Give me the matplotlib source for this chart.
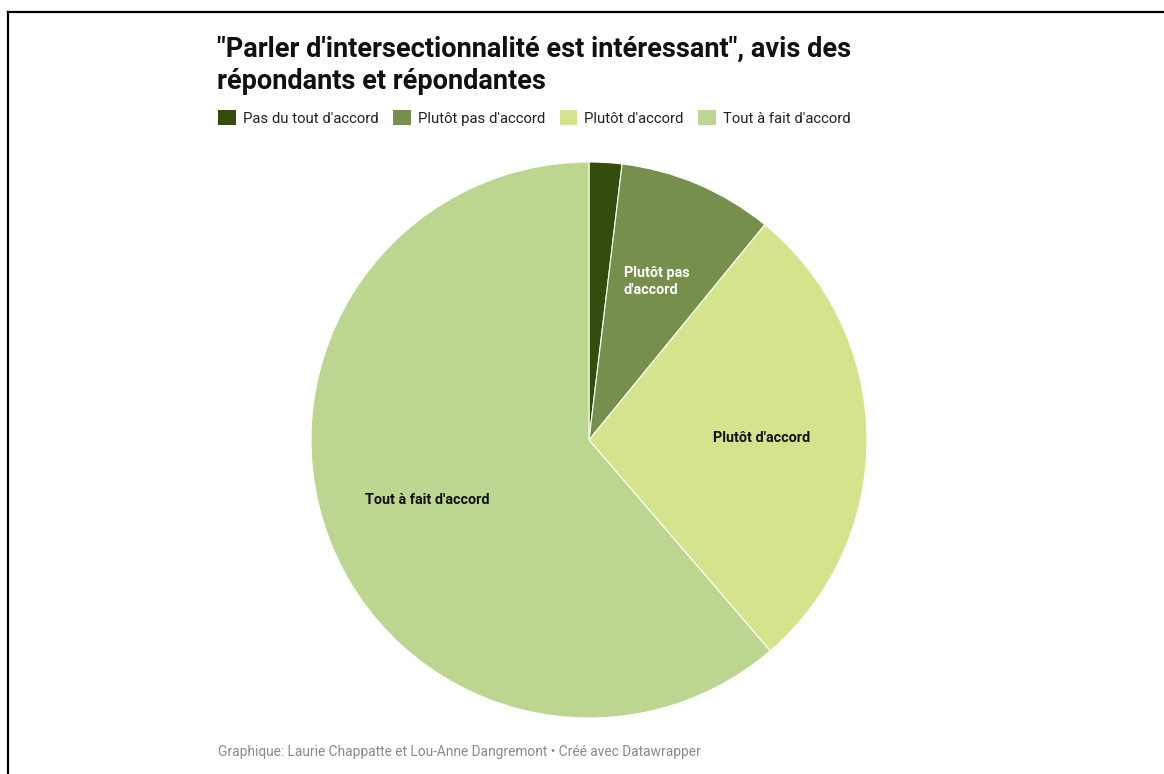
import matplotlib.pyplot as plt
from matplotlib.patches import Patch
from matplotlib.lines import Line2D

plt.rcParams['font.family'] = ['Roboto', 'DejaVu Sans']

# data
categories = ["Pas du tout d'accord", "Plutôt pas d'accord", "Plutôt d'accord", "Tout à fait d'accord"]
slice_labels = ["", "Plutôt pas\nd'accord", "Plutôt d'accord", "Tout à fait d'accord"]
shares = [1.9, 9.0, 27.8, 61.3]
colors = ['#344d0d', '#768f4c', '#d4e48c', '#bcd690']
label_colors = ['white', 'white', '#111111', '#111111']

title = "\"Parler d'intersectionnalité est intéressant\", avis des\nrépondants et répondantes"
footer = "Graphique: Laurie Chappatte et Lou-Anne Dangremont • Créé avec Datawrapper"

W, H = 1164, 774
fig = plt.figure(figsize=(W / 100, H / 100), dpi=100)
ax = fig.add_axes([0, 0, 1, 1])

wedges, texts = ax.pie(
    shares, labels=slice_labels, colors=colors,
    center=(589, H - 440), radius=278,
    startangle=90, counterclock=False,
    labeldistance=0.62,
    wedgeprops=dict(edgecolor='white', linewidth=0.8),
)
for t, c in zip(texts, label_colors):
    t.set_color(c)
    t.set_fontsize(10.4)
    t.set_fontweight('bold')
    t.set_ha('center')
    t.set_va('center')
    t.set_multialignment('left')
    t.set_linespacing(1.3)

ax.set_xlim(0, W)
ax.set_ylim(0, H)
ax.set_aspect('equal')
ax.axis('off')

# title + legend
fig.text(217 / W, 1 - 36 / H, title, fontsize=19.5, fontweight='bold',
         va='top', ha='left', color='#111111', linespacing=1.22)

handles = [Patch(facecolor=c, edgecolor='none') for c in colors]
fig.legend(handles, categories, ncol=4, loc='center left',
           bbox_to_anchor=(218 / W, 1 - 118 / H), frameon=False,
           fontsize=10.7, handlelength=1.2, handleheight=1.2,
           handletextpad=0.45, columnspacing=1.0, borderpad=0, borderaxespad=0,
           labelcolor='#222222')

fig.text(218 / W, 1 - 752 / H, footer, fontsize=9.9, color='#8a8a8a',
         va='center', ha='left')

# frame lines top and left
fig.add_artist(Line2D([7.5 / W, 1], [1 - 11.5 / H, 1 - 11.5 / H],
                      transform=fig.transFigure, color='black', linewidth=1.6))
fig.add_artist(Line2D([7.5 / W, 7.5 / W], [0, 1 - 11.5 / H],
                      transform=fig.transFigure, color='black', linewidth=1.6))

fig.savefig('out.png', dpi=100, facecolor='white')
